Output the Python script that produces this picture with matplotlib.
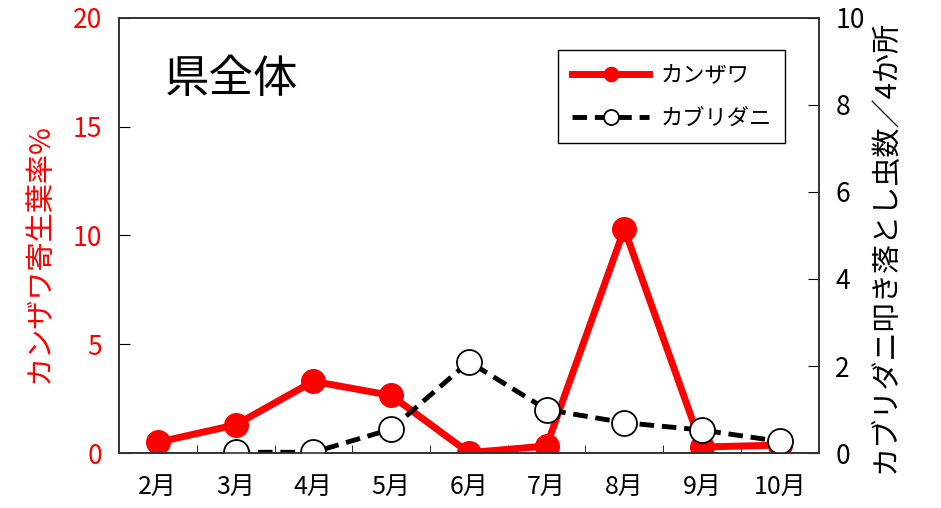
import numpy as np
import matplotlib.pyplot as plt

plt.rcParams['font.family'] = ['Noto Sans CJK JP', 'DejaVu Sans']

# data
months = ["2月", "3月", "4月", "5月", "6月", "7月", "8月", "9月", "10月"]
kanzawa = [0.5, 1.3, 3.3, 2.65, 0.02, 0.33, 10.3, 0.28, 0.37]
kaburi_months = ["3月", "4月", "5月", "6月", "7月", "8月", "9月", "10月"]
kaburi = [0.02, 0.02, 0.55, 2.1, 1.0, 0.7, 0.53, 0.27]

x = np.arange(len(months))
xk = np.array([months.index(m) for m in kaburi_months])

fig = plt.figure(figsize=(9.41, 5.08), dpi=100)
ax = fig.add_axes([0.1265, 0.108, 0.7435, 0.857])
ax2 = ax.twinx()

l1, = ax.plot(x, kanzawa, color="red", lw=5, marker="o", ms=17,
              markeredgecolor="red", label="カンザワ")
l2, = ax2.plot(xk, kaburi, color="black", lw=3.5, ls=(0, (3, 1.6)), marker="o",
               ms=18, markerfacecolor="white", markeredgecolor="black",
               markeredgewidth=1.3, label="カブリダニ")

ax.set_xlim(-0.5, len(months) - 0.5)
ax.set_ylim(0, 20)
ax2.set_ylim(0, 10)
ax.set_yticks([0, 5, 10, 15, 20])
ax2.set_yticks([0, 2, 4, 6, 8, 10])
ax.set_xticks(x)
ax.set_xticklabels(months)
ax.set_xticks(np.arange(0.5, len(months) - 1, 1), minor=True)
ax.tick_params(axis="x", which="major", length=0, labelsize=18, pad=15)
ax.tick_params(axis="x", which="minor", direction="in", length=6)
ax.tick_params(axis="y", direction="in", length=8, labelsize=19,
               labelcolor="red", pad=12)
ax2.tick_params(axis="y", direction="in", length=8, labelsize=19, pad=12)

ax.set_ylabel("カンザワ寄生葉率%", color="red", fontsize=21)
ax.yaxis.set_label_coords(-0.092, 0.46)
ax2.set_ylabel("カブリダニ叩き落とし虫数／4か所", fontsize=21, labelpad=6)
ax2.yaxis.set_label_coords(1.075, 0.475)

for a in (ax, ax2):
    for s in a.spines.values():
        s.set_color("#333333")
        s.set_linewidth(1.2)

ax.text(0.065, 0.83, "県全体", transform=ax.transAxes, fontsize=32)

leg = ax2.legend(handles=[l1, l2], loc="upper right",
                 bbox_to_anchor=(0.952, 0.925), fontsize=16, markerscale=0.6,
                 handlelength=3.5, handletextpad=0.5, borderpad=0.6,
                 labelspacing=0.9, borderaxespad=0,
                 fancybox=False, edgecolor="black", framealpha=1)
leg.get_frame().set_linewidth(1.0)

fig.savefig("out.png", dpi=100)
